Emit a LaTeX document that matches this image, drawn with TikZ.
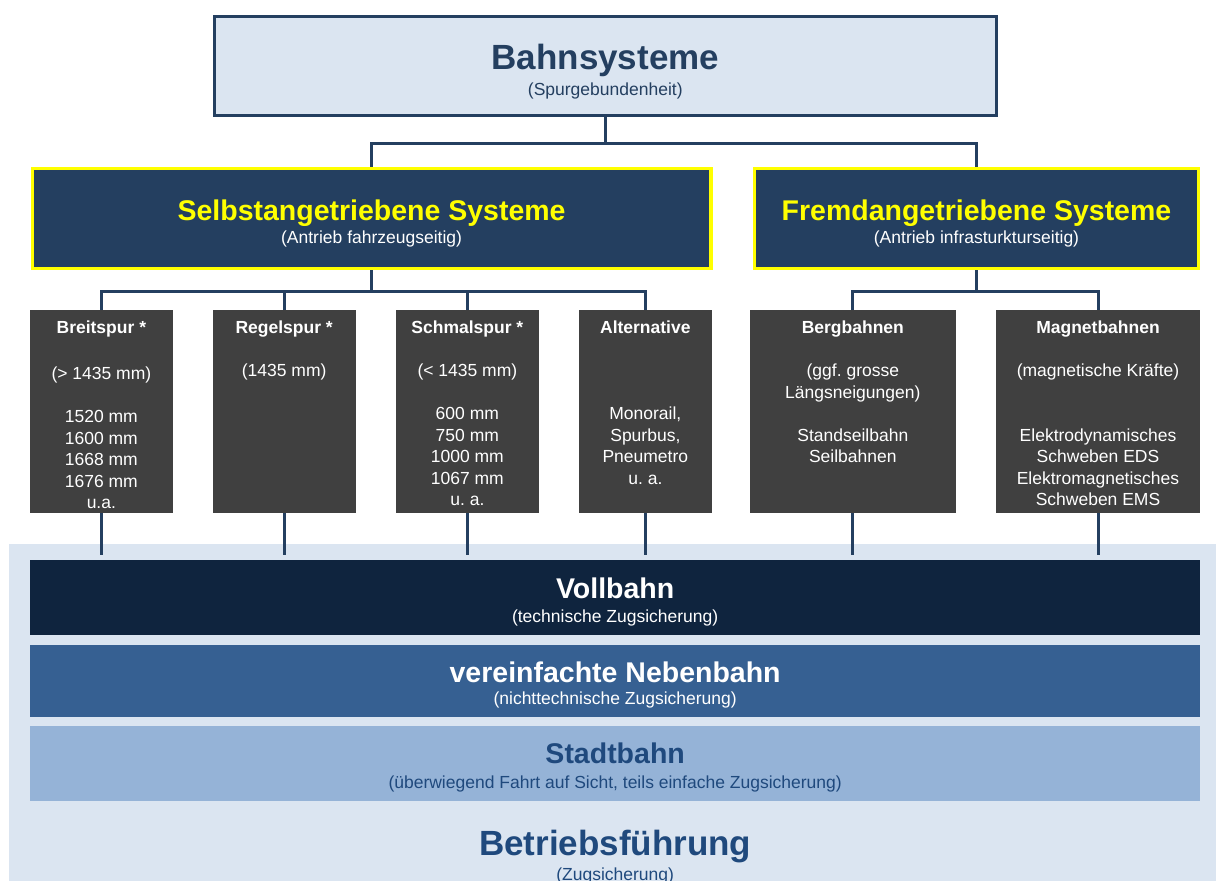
\documentclass[tikz,border=0pt]{standalone}
\usepackage{fontspec}
\setmainfont{Liberation Sans}
\frenchspacing

\definecolor{navy}{HTML}{243F60}
\definecolor{paleblue}{HTML}{DBE5F1}
\definecolor{charcoal}{HTML}{404040}
\definecolor{deepnavy}{HTML}{0F243E}
\definecolor{midblue}{HTML}{366092}
\definecolor{softblue}{HTML}{95B3D7}
\definecolor{textblue}{HTML}{1F497D}
\definecolor{signyellow}{HTML}{FFFF00}

\pgfdeclarelayer{back}
\pgfdeclarelayer{wires}
\pgfsetlayers{back,wires,main}

\tikzset{
  box/.style={rectangle, inner sep=0pt, outer sep=0pt},
  topbox/.style={box, fill=paleblue, draw=navy, line width=3pt},
  drivebox/.style={box, fill=navy, draw=signyellow, line width=3.5pt, minimum height=99.8pt},
  gaugebox/.style={box, fill=charcoal, minimum height=203.3pt},
  band/.style={box, minimum width=1169.7pt},
  bigtitle/.style={font=\fontsize{35}{42}\selectfont\bfseries, inner sep=0pt, anchor=base},
  title/.style={font=\fontsize{28.5}{34}\selectfont\bfseries, inner sep=0pt, anchor=base},
  subtitle/.style={font=\fontsize{17.5}{21}\selectfont, inner sep=0pt, anchor=base},
  gaugetext/.style={font=\fontsize{17.5}{21.5}\selectfont, text=white, align=center,
                    inner sep=0pt, anchor=north},
  wire/.style={draw=navy, line width=3pt},
}

\begin{document}
\begin{tikzpicture}[x=1pt,y=-1pt]
\useasboundingbox (0,0) rectangle (1216,881);
\clip (0,0) rectangle (1216,881);

% ---------- top level ----------
\node[topbox, minimum width=781.5pt, minimum height=99.3pt] (bahn) at (605.3,66.2) {};
\node[bigtitle, text=navy] (bahnT) at (605.3,69) {Bahnsysteme};
\node[subtitle, text=navy] (bahnS) at (605.3,95) {(Spurgebundenheit)};

% ---------- drive systems ----------
\node[drivebox, minimum width=678.4pt] (selbst) at (371.6,218.35) {};
\node[title, text=signyellow] (selbstT) at (371.6,220) {Selbstangetriebene Systeme};
\node[subtitle, text=white] (selbstS) at (371.6,243) {(Antrieb fahrzeugseitig)};

\node[drivebox, minimum width=444.1pt] (fremd) at (976.5,218.35) {};
\node[title, text=signyellow] (fremdT) at (976.5,220) {Fremdangetriebene Systeme};
\node[subtitle, text=white] (fremdS) at (976.5,243) {(Antrieb infrasturkturseitig)};

% ---------- gauge / system boxes ----------
\node[gaugebox, minimum width=142.7pt] (breit)  at (101.35,411.65) {};
\node[gaugebox, minimum width=143pt]   (regel)  at (284.2,411.65) {};
\node[gaugebox, minimum width=142.7pt] (schmal) at (467.35,411.65) {};
\node[gaugebox, minimum width=132.7pt] (alt)    at (645.35,411.65) {};
\node[gaugebox, minimum width=205.7pt] (berg)   at (852.85,411.65) {};
\node[gaugebox, minimum width=204pt]   (magnet) at (1098,411.65) {};

\node[gaugetext] (breitT) at (101.35,318.55)
  {\strut\textbf{Breitspur *}\\[3pt]~\\(> 1435 mm)\\~\\1520 mm\\1600 mm\\1668 mm\\1676 mm\\u.a.};
\node[gaugetext] (regelT) at (284.2,318.55)
  {\strut\textbf{Regelspur *}\\~\\(1435 mm)};
\node[gaugetext] (schmalT) at (467.35,318.55)
  {\strut\textbf{Schmalspur *}\\~\\(< 1435 mm)\\~\\600 mm\\750 mm\\1000 mm\\1067 mm\\u. a.};
\node[gaugetext] (altT) at (645.35,318.55)
  {\strut\textbf{Alternative}\\~\\~\\~\\Monorail,\\Spurbus,\\Pneumetro\\u. a.};
\node[gaugetext] (bergT) at (852.85,318.55)
  {\strut\textbf{Bergbahnen}\\~\\(ggf. grosse\\Längsneigungen)\\~\\Standseilbahn\\Seilbahnen};
\node[gaugetext] (magnetT) at (1098,318.55)
  {\strut\textbf{Magnetbahnen}\\~\\(magnetische Kräfte)\\~\\~\\Elektrodynamisches\\Schweben EDS\\Elektromagnetisches\\Schweben EMS};

% ---------- operation levels ----------
\begin{pgfonlayer}{back}
  \fill[white] (0,0) rectangle (1216,881);
  \node[box, fill=paleblue, minimum width=1206.7pt, minimum height=337pt] (betrieb) at (612.65,712.5) {};
\end{pgfonlayer}

\node[band, fill=deepnavy, minimum height=75pt] (voll) at (615.15,597.5) {};
\node[title, text=white] (vollT) at (615.15,598) {Vollbahn};
\node[subtitle, text=white] (vollS) at (615.15,622) {(technische Zugsicherung)};

\node[band, fill=midblue, minimum height=71.7pt] (neben) at (615.15,680.85) {};
\node[title, text=white] (nebenT) at (615.15,682) {vereinfachte Nebenbahn};
\node[subtitle, text=white] (nebenS) at (615.15,704.5) {(nichttechnische Zugsicherung)};

\node[band, fill=softblue, minimum height=74.7pt] (stadt) at (615.15,763.35) {};
\node[title, text=textblue] (stadtT) at (615.15,763.5) {Stadtbahn};
\node[subtitle, text=textblue] (stadtS) at (615.15,788) {(überwiegend Fahrt auf Sicht, teils einfache Zugsicherung)};

\node[bigtitle, text=textblue] (betriebT) at (615.15,855) {Betriebsführung};
\node[subtitle, text=textblue] (betriebS) at (615.15,880) {(Zugsicherung)};

% ---------- connectors ----------
\begin{pgfonlayer}{wires}
  \draw[wire] (bahn.south) -- ++(0,27.5) -| (selbst.north);
  \draw[wire] (bahn.south) -- ++(0,27.5) -| (fremd.north);

  \foreach \g in {breit,regel,schmal,alt}
    \draw[wire] (selbst.south) -- ++(0,22.75) -| (\g.north);
  \foreach \g in {berg,magnet}
    \draw[wire] (fremd.south) -- ++(0,22.75) -| (\g.north);

  \foreach \g in {breit,regel,schmal,alt,berg,magnet}
    \draw[wire, shorten >=5pt] (\g.south) -- (\g.south |- voll.north);
\end{pgfonlayer}
\end{tikzpicture}
\end{document}
